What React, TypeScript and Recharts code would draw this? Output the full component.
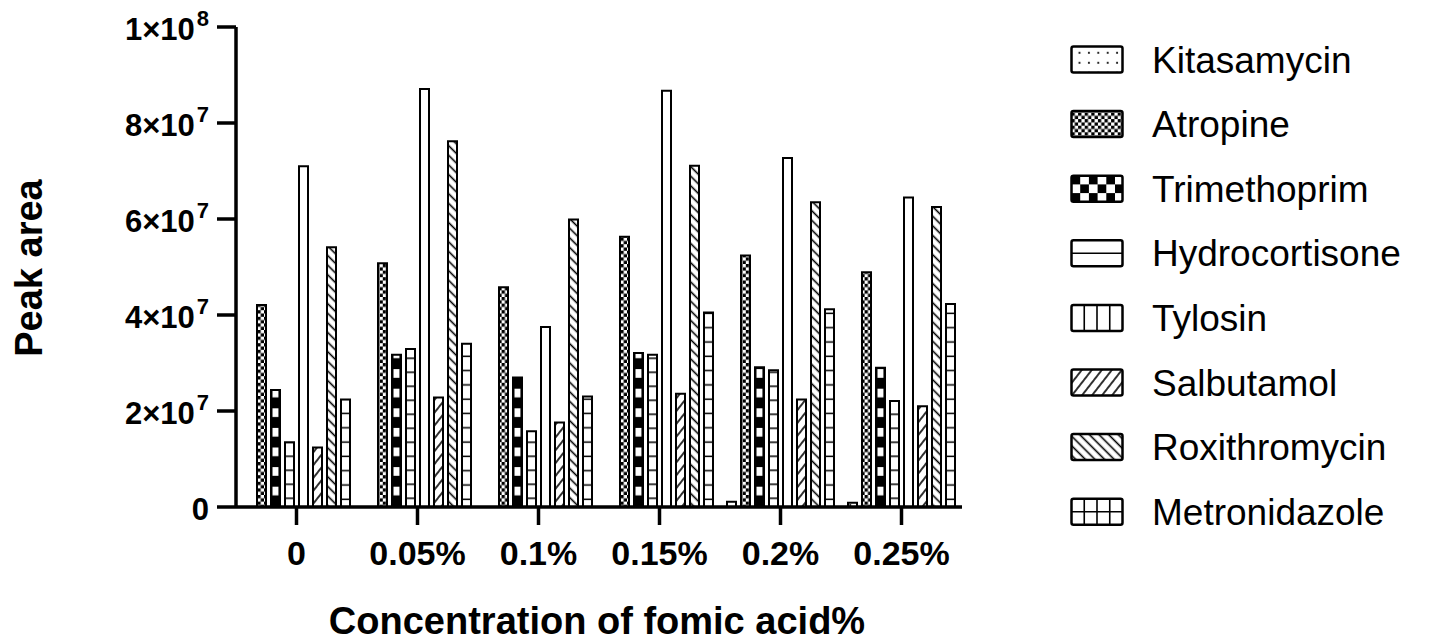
import React from 'react';
import { BarChart, Bar, XAxis, YAxis, Legend } from 'recharts';

// ---------- data ----------
const categories = ['0', '0.05%', '0.1%', '0.15%', '0.2%', '0.25%'];
const kitasamycin = [0, 0, 0, 0, 1.1e6, 0.9e6];
const atropine = [4.21e7, 5.08e7, 4.58e7, 5.63e7, 5.24e7, 4.89e7];
const trimethoprim = [2.44e7, 3.17e7, 2.7e7, 3.21e7, 2.91e7, 2.9e7];
const hydrocortisone = [1.35e7, 3.29e7, 1.58e7, 3.17e7, 2.85e7, 2.21e7];
const tylosin = [7.1e7, 8.71e7, 3.75e7, 8.67e7, 7.27e7, 6.45e7];
const salbutamol = [1.24e7, 2.28e7, 1.76e7, 2.36e7, 2.24e7, 2.1e7];
const roxithromycin = [5.41e7, 7.62e7, 5.99e7, 7.11e7, 6.35e7, 6.25e7];
const metronidazole = [2.24e7, 3.4e7, 2.3e7, 4.05e7, 4.12e7, 4.23e7];

const seriesNames = [
  'Kitasamycin',
  'Atropine',
  'Trimethoprim',
  'Hydrocortisone',
  'Tylosin',
  'Salbutamol',
  'Roxithromycin',
  'Metronidazole',
];
const seriesValues = [
  kitasamycin,
  atropine,
  trimethoprim,
  hydrocortisone,
  tylosin,
  salbutamol,
  roxithromycin,
  metronidazole,
];

const yTicks = [0, 2e7, 4e7, 6e7, 8e7, 1e8];
const yTickBase = ['0', '2×10', '4×10', '6×10', '8×10', '1×10'];
const yTickExp = ['', '7', '7', '7', '7', '8'];

const xTitle = 'Concentration of fomic acid%';
const yTitle = 'Peak area';

const data = categories.map((c, i) => {
  const row: Record<string, any> = { cat: c };
  seriesNames.forEach((n, k) => {
    row[n] = seriesValues[k][i];
  });
  return row;
});

// ---------- styles ----------
const FONT = "'Liberation Sans', Arial, Helvetica, sans-serif";
const seriesFills = [
  'url(#pKita)',
  'url(#pAtro)',
  'url(#pTrim)',
  'url(#pHydro)',
  '#ffffff',
  'url(#pSalb)',
  'url(#pRoxi)',
  'url(#pMetro)',
];
const legendFills = [
  'url(#LKita)',
  'url(#LAtro)',
  'url(#LTrim)',
  '#ffffff',
  '#ffffff',
  'url(#pSalb)',
  'url(#pRoxi)',
  '#ffffff',
];

const PatternDefs = () => (
  <svg width={0} height={0} style={{ position: 'absolute', left: 0, top: 0 }}>
    <defs>
      <pattern id="pKita" patternUnits="userSpaceOnUse" width={9.5} height={10}>
        <rect width={9.5} height={10} fill="#fff" />
        <circle cx={4.75} cy={5} r={1} fill="#000" />
      </pattern>
      <pattern id="pAtro" patternUnits="userSpaceOnUse" width={6.6} height={6.6}>
        <rect width={6.6} height={6.6} fill="#fff" />
        <rect width={3.3} height={3.3} fill="#000" />
        <rect x={3.3} y={3.3} width={3.3} height={3.3} fill="#000" />
      </pattern>
      <pattern id="pTrim" patternUnits="userSpaceOnUse" x={272.5} y={408.3} width={121 / 6} height={19.6}>
        <rect width={121 / 6} height={19.6} fill="#000" />
        <rect x={0} y={0} width={6} height={8.7} fill="#fff" />
      </pattern>
      <pattern id="pHydro" patternUnits="userSpaceOnUse" x={0} y={491.3} width={10} height={14}>
        <rect width={10} height={14} fill="#fff" />
        <line x1={0} y1={7} x2={10} y2={7} stroke="#000" strokeWidth={1.5} />
      </pattern>
      <pattern id="pMetro" patternUnits="userSpaceOnUse" x={0} y={492.3} width={10} height={14.3}>
        <rect width={10} height={14.3} fill="#fff" />
        <line x1={0} y1={7} x2={10} y2={7} stroke="#000" strokeWidth={1.5} />
      </pattern>
      <pattern id="pSalb" patternUnits="userSpaceOnUse" width={7.9} height={7.9} patternTransform="rotate(38)">
        <rect width={7.9} height={7.9} fill="#fff" />
        <line x1={3.95} y1={-1} x2={3.95} y2={9} stroke="#000" strokeWidth={1.6} />
      </pattern>
      <pattern id="pRoxi" patternUnits="userSpaceOnUse" width={6.8} height={6.8} patternTransform="rotate(-45)">
        <rect width={6.8} height={6.8} fill="#fff" />
        <line x1={3.4} y1={-1} x2={3.4} y2={8} stroke="#000" strokeWidth={1.6} />
      </pattern>
    </defs>
  </svg>
);

const LEG_PITCH = 64.6;
const SW_W = 51;
const SW_H = 26;

const LegendContent = () => (
  <svg width={367} height={530} style={{ display: 'block', overflow: 'visible' }}>
    <defs>
      <pattern id="LKita" patternUnits="userSpaceOnUse" x={4.8} y={7.8} width={9.4} height={10}>
        <rect width={9.4} height={10} fill="#fff" />
        <circle cx={4.7} cy={0} r={1.1} fill="#000" />
        <circle cx={4.7} cy={10} r={1.1} fill="#000" />
      </pattern>
      <pattern id="LAtro" patternUnits="userSpaceOnUse" x={1.5} y={1.5} width={6.6} height={6.6}>
        <rect width={6.6} height={6.6} fill="#fff" />
        <rect width={3.3} height={3.3} fill="#000" />
        <rect x={3.3} y={3.3} width={3.3} height={3.3} fill="#000" />
      </pattern>
      <pattern id="LTrim" patternUnits="userSpaceOnUse" x={1.5} y={1.5 + 2 * LEG_PITCH} width={17.4} height={17.4}>
        <rect width={17.4} height={17.4} fill="#fff" />
        <rect width={8.7} height={8.7} fill="#000" />
        <rect x={8.7} y={8.7} width={8.7} height={8.7} fill="#000" />
      </pattern>
    </defs>
    {seriesNames.map((n, i) => {
      const y0 = 1.5 + i * LEG_PITCH;
      const x0 = 1.5;
      const extras: React.ReactNode[] = [];
      if (i === 3 || i === 7) {
        extras.push(
          <line key="h" x1={x0} y1={y0 + SW_H / 2} x2={x0 + SW_W} y2={y0 + SW_H / 2} stroke="#000" strokeWidth={1.6} />
        );
      }
      if (i === 4 || i === 7) {
        [1, 2, 3].forEach((k) =>
          extras.push(
            <line
              key={'v' + k}
              x1={x0 + (SW_W * k) / 4}
              y1={y0}
              x2={x0 + (SW_W * k) / 4}
              y2={y0 + SW_H}
              stroke="#000"
              strokeWidth={1.6}
            />
          )
        );
      }
      return (
        <g key={n}>
          <rect x={x0} y={y0} width={SW_W} height={SW_H} fill={legendFills[i]} />
          {extras}
          <rect x={x0} y={y0} width={SW_W} height={SW_H} fill="none" stroke="#000" strokeWidth={2.5} rx={2} />
          <text x={82} y={y0 + SW_H} fontFamily={FONT} fontSize={37} fill="#000">
            {n}
          </text>
        </g>
      );
    })}
  </svg>
);

const YTick = (props: any) => {
  const { x, y, payload } = props;
  const idx = yTicks.indexOf(payload.value);
  return (
    <text x={x} y={y + 13} textAnchor="end" fontFamily={FONT} fontWeight="bold" fontSize={31} fill="#000">
      <tspan>{yTickBase[idx]}</tspan>
      {yTickExp[idx] ? (
        <tspan dy={-14} dx={2} fontSize={22}>
          {yTickExp[idx]}
        </tspan>
      ) : null}
    </text>
  );
};

const XTick = (props: any) => {
  const { x, y, payload } = props;
  return (
    <text x={x} y={y + 25} textAnchor="middle" fontFamily={FONT} fontWeight="bold" fontSize={34} fill="#000">
      {payload.value}
    </text>
  );
};

const XTitle = () => (
  <text x={597} y={634} textAnchor="middle" fontFamily={FONT} fontWeight="bold" fontSize={38} fill="#000">
    {xTitle}
  </text>
);

const YTitle = () => (
  <text
    x={28}
    y={282}
    transform="rotate(-90 28 268)"
    textAnchor="middle"
    fontFamily={FONT}
    fontWeight="bold"
    fontSize={38}
    fill="#000"
  >
    {yTitle}
  </text>
);

export default function App() {
  return (
    <div style={{ position: 'absolute', left: 0, top: 0, width: 1437, height: 644, background: '#fff' }}>
      <PatternDefs />
      <BarChart
        width={1437}
        height={644}
        data={data}
        margin={{ top: 27, right: 475, bottom: 27, left: 0 }}
        barSize={9}
        barGap={5}
        barCategoryGap={0}
      >
        {seriesNames.map((n, i) => (
          <Bar
            key={n}
            dataKey={n}
            fill={seriesFills[i]}
            stroke="#000"
            strokeWidth={2}
            isAnimationActive={false}
          />
        ))}
        <XAxis
          dataKey="cat"
          height={110}
          interval={0}
          tickSize={18}
          tickMargin={15}
          axisLine={{ stroke: '#000', strokeWidth: 3.5 }}
          tickLine={{ stroke: '#000', strokeWidth: 3.5 }}
          tick={<XTick />}
          label={<XTitle />}
        />
        <YAxis
          width={236}
          domain={[0, 1e8]}
          ticks={yTicks}
          interval={0}
          tickSize={19}
          tickMargin={8}
          axisLine={{ stroke: '#000', strokeWidth: 3.5 }}
          tickLine={{ stroke: '#000', strokeWidth: 3.5 }}
          tick={<YTick />}
          label={<YTitle />}
        />
        <Legend
          layout="vertical"
          align="center"
          verticalAlign="middle"
          wrapperStyle={{ left: 1070, top: 45, width: 367, height: 530 }}
          content={<LegendContent />}
        />
      </BarChart>
    </div>
  );
}
